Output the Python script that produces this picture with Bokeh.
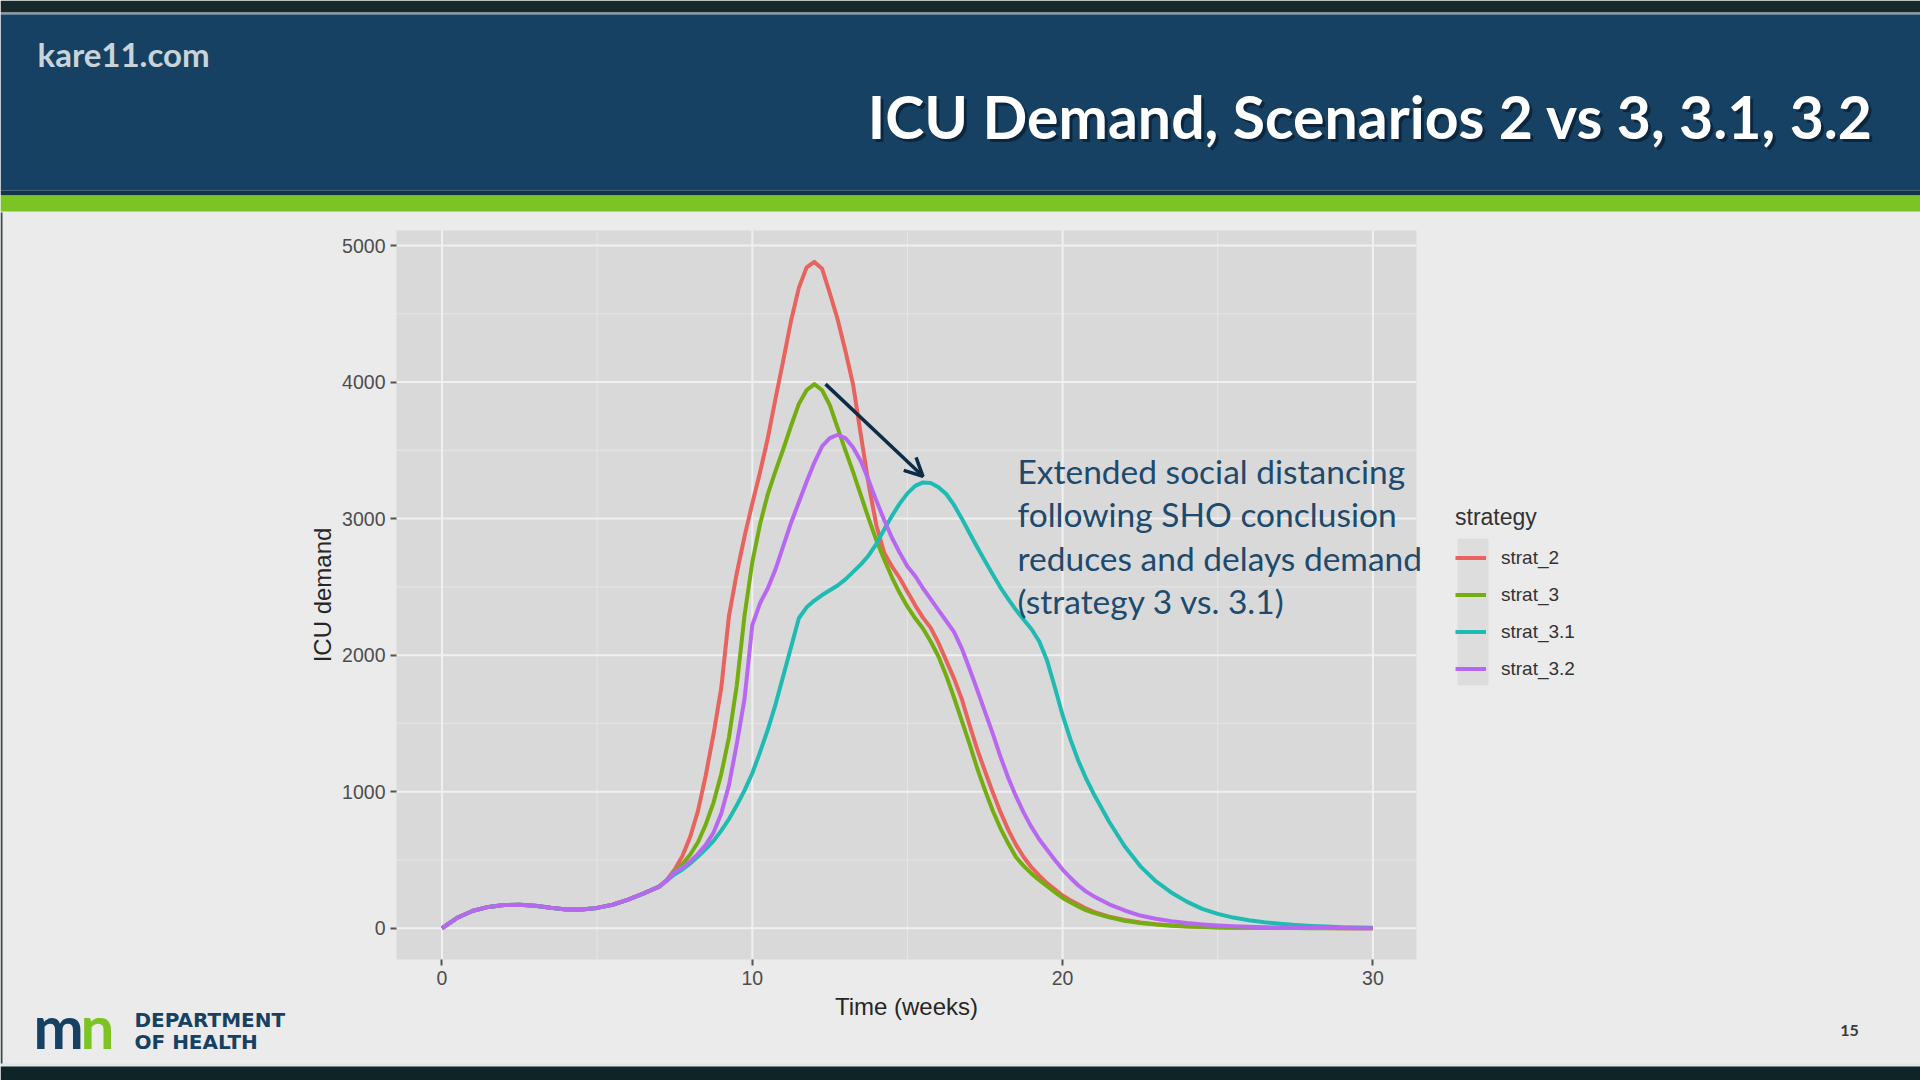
from bokeh.plotting import figure
from bokeh.models import Range1d, FixedTicker, Legend, LegendItem, Label, Arrow, OpenHead, LinearAxis
from bokeh.embed import file_html
from bokeh.resources import INLINE
from bokeh.core.properties import value

# ---------------- data ----------------
weeks = [0.0, 0.5, 1.0, 1.5, 2.0, 2.5, 3.0, 3.5, 4.0, 4.5, 5.0, 5.5, 6.0, 6.5, 7.0,
         7.25, 7.5, 7.75, 8.0, 8.25, 8.5, 8.75, 9.0, 9.25, 9.5, 9.75, 10.0,
         10.25, 10.5, 10.75, 11.0, 11.25, 11.5, 11.75, 12.0, 12.25, 12.5, 12.75, 13.0,
         13.25, 13.5, 13.75, 14.0, 14.25, 14.5, 14.75, 15.0, 15.25, 15.5, 15.75, 16.0,
         16.25, 16.5, 16.75, 17.0, 17.25, 17.5, 17.75, 18.0, 18.25, 18.5, 18.75, 19.0,
         19.25, 19.5, 19.75, 20.0, 20.25, 20.5, 20.75, 21.0,
         21.5, 22.0, 22.5, 23.0, 23.5, 24.0, 24.5, 25.0, 25.5, 26.0, 26.5, 27.0,
         27.5, 28.0, 28.5, 29.0, 29.5, 30.0]

strat_2 = [0, 78, 128, 156, 170, 172, 165, 150, 138, 137, 149, 172, 210, 255, 305,
           355, 430, 530, 670, 860, 1120, 1420, 1760, 2290, 2600, 2870, 3110,
           3340, 3590, 3880, 4160, 4450, 4690, 4840, 4880, 4830, 4650, 4460, 4230,
           3980, 3610, 3250, 2950, 2750, 2650, 2565, 2465, 2365, 2275, 2200, 2090,
           1960, 1830, 1680, 1490, 1310, 1150, 995, 850, 720, 610, 520, 445,
           385, 330, 285, 240, 205, 175, 145, 120,
           85, 60, 42, 30, 21, 15, 10, 7, 5, 4, 3, 2,
           1, 1, 1, 0, 0, 0]

strat_3 = [0, 78, 128, 156, 170, 172, 165, 150, 138, 137, 149, 172, 210, 255, 305,
           350, 420, 470, 540, 630, 760, 920, 1130, 1400, 1780, 2290, 2680,
           2960, 3180, 3350, 3510, 3680, 3840, 3940, 3985, 3940, 3830, 3665, 3500,
           3340, 3170, 3000, 2840, 2700, 2570, 2455, 2355, 2270, 2195, 2100, 1990,
           1850, 1690, 1520, 1350, 1170, 1010, 860, 730, 620, 520, 455, 400,
           352, 308, 265, 222, 190, 160, 133, 112,
           80, 55, 38, 27, 19, 13, 9, 6, 4, 3, 2, 1,
           1, 0, 0, 0, 0, 0]

strat_3_1 = [0, 78, 128, 156, 170, 172, 165, 150, 138, 137, 149, 172, 210, 255, 305,
             350, 395, 430, 475, 525, 580, 640, 715, 800, 900, 1010, 1135,
             1290, 1455, 1640, 1850, 2060, 2270, 2350, 2400, 2440, 2475, 2510, 2555,
             2610, 2665, 2730, 2815, 2920, 3020, 3110, 3185, 3240, 3265, 3260, 3230,
             3180, 3100, 3000, 2895, 2790, 2690, 2590, 2495, 2410, 2330, 2260, 2190,
             2100, 1960, 1765, 1560, 1385, 1230, 1100, 985,
             780, 600, 455, 345, 262, 195, 142, 105, 78, 58, 44, 33,
             24, 17, 12, 8, 5, 3]

strat_3_2 = [0, 78, 128, 156, 170, 172, 165, 150, 138, 137, 149, 172, 210, 255, 305,
             350, 410, 445, 490, 545, 610, 700, 840, 1050, 1350, 1680, 2220,
             2380, 2490, 2630, 2800, 2970, 3120, 3270, 3410, 3530, 3590, 3614, 3590,
             3520, 3420, 3280, 3130, 2990, 2860, 2750, 2650, 2580, 2490, 2410, 2330,
             2250, 2170, 2050, 1900, 1745, 1585, 1425, 1255, 1100, 965, 845, 740,
             650, 575, 500, 430, 370, 315, 270, 235,
             175, 130, 93, 70, 52, 38, 28, 20, 14, 10, 7, 5,
             3, 2, 1, 1, 0, 0]

series_names = ["strat_2", "strat_3", "strat_3.1", "strat_3.2"]
series_values = [strat_2, strat_3, strat_3_1, strat_3_2]
series_colors = ["#e8635d", "#74ad12", "#1fbab2", "#b868f0"]
for s in series_values:
    assert len(s) == len(weeks), (len(s), len(weeks))

x_ticks = [0, 10, 20, 30]
x_minor = [5, 15, 25]
y_ticks = [0, 1000, 2000, 3000, 4000, 5000]
y_minor = [500, 1500, 2500, 3500, 4500]

title_text = "ICU Demand, Scenarios 2 vs 3, 3.1, 3.2"
note_lines = ["Extended social distancing", "following SHO conclusion",
              "reduces and delays demand", "(strategy 3 vs. 3.1)"]

# ---------------- geometry / styles ----------------
NAVY = "#164163"
GREEN = "#7cc324"
SLIDE = "#ebebeb"
PANEL = "#d9d9d9"
W, H = 1920, 1080
FR_L, FR_R, FR_T, FR_B = 396, 1416, 230, 959      # ggplot panel, in page pixels
X0, X1 = -1.466, 31.405                            # panel data extent
Y0, Y1 = -229, 5110
SX = (FR_R - FR_L) / (X1 - X0)
SY = (FR_B - FR_T) / (Y1 - Y0)


def dx(px):
    return X0 + (px - FR_L) / SX


def dy(py):
    return Y1 - (py - FR_T) / SY


p = figure(width=W, height=H, x_range=Range1d(dx(0), dx(W)), y_range=Range1d(dy(H), dy(0)),
           output_backend="svg", toolbar_location=None, min_border=0,
           x_axis_location=None, y_axis_location=None)
p.grid.visible = False
p.outline_line_color = None
p.background_fill_color = SLIDE
p.border_fill_color = SLIDE

# ---- slide decoration ----
def band(top, bottom, color, left=0, right=W):
    p.quad(left=[dx(left)], right=[dx(right)], top=[dy(top)], bottom=[dy(bottom)],
           fill_color=color, line_color=None)

band(0, 12, "#16292b")
band(12, 14, "#8a9ba3")
band(14, 190, NAVY)
band(190, 195, "#123446")
band(195, 211, GREEN)
band(1063, 1066, "#dfe5e5")
band(1066, 1080, "#0e2426")
band(212, 1063, "#3c4a4c", left=0, right=2)
# legend key background column (ggplot key boxes)
band(538, 685, "#dddddd", left=1457, right=1488)

p.text(x=[dx(1876)], y=[dy(119)], text=[title_text], text_align="right", text_baseline="alphabetic",
       text_font=value("Lato"), text_font_style="bold", text_font_size="59px",
       text_color="#0a2033", text_alpha=0.8)
p.text(x=[dx(1873)], y=[dy(116)], text=[title_text], text_align="right", text_baseline="alphabetic",
       text_font=value("Lato"), text_font_style="bold", text_font_size="59px",
       text_color="#ffffff")
p.text(x=[dx(37)], y=[dy(53)], text=["kare11.com"], text_align="left", text_baseline="middle",
       text_font=value("Lato"), text_font_style="bold", text_font_size="33px",
       text_color="#c9d3da")

# ---- panel ----
p.quad(left=[X0], right=[X1], bottom=[Y0], top=[Y1], fill_color=PANEL, line_color=None)
p.segment(x0=x_minor, x1=x_minor, y0=[Y0] * len(x_minor), y1=[Y1] * len(x_minor),
          line_color="#e6e6e6", line_width=1)
p.segment(x0=[X0] * len(y_minor), x1=[X1] * len(y_minor), y0=y_minor, y1=y_minor,
          line_color="#e6e6e6", line_width=1)
p.segment(x0=x_ticks, x1=x_ticks, y0=[Y0] * len(x_ticks), y1=[Y1] * len(x_ticks),
          line_color="#f0f0f0", line_width=2)
p.segment(x0=[X0] * len(y_ticks), x1=[X1] * len(y_ticks), y0=y_ticks, y1=y_ticks,
          line_color="#f0f0f0", line_width=2)

xaxis = LinearAxis(fixed_location=Y0, ticker=FixedTicker(ticks=x_ticks), axis_label="Time (weeks)",
                   bounds=(X0, X1))
yaxis = LinearAxis(fixed_location=X0, ticker=FixedTicker(ticks=y_ticks), axis_label="ICU demand",
                   bounds=(Y0, Y1))
for ax in (xaxis, yaxis):
    ax.axis_line_color = None
    ax.minor_tick_line_color = None
    ax.major_tick_line_color = "#555555"
    ax.major_tick_line_width = 2
    ax.major_tick_out = 6
    ax.major_tick_in = 0
    ax.major_label_text_font = "Liberation Sans"
    ax.major_label_text_font_size = "19.5px"
    ax.major_label_text_color = "#4d4d4d"
    ax.axis_label_text_font = "Liberation Sans"
    ax.axis_label_text_font_size = "24px"
    ax.axis_label_text_font_style = "normal"
    ax.axis_label_text_color = "#262626"
xaxis.major_label_standoff = 5
yaxis.major_label_standoff = 5
xaxis.axis_label_standoff = 5
yaxis.axis_label_standoff = 3
p.add_layout(xaxis, "below")
p.add_layout(yaxis, "left")

renderers = []
for name, vals, col in zip(series_names, series_values, series_colors):
    r = p.line(weeks, vals, line_color=col, line_width=4, line_join="round")
    renderers.append(r)

legend = Legend(items=[LegendItem(label=n, renderers=[r]) for n, r in zip(series_names, renderers)],
                title="strategy", location=(1445, H - 697), orientation="vertical")
legend.title_text_font = "Liberation Sans"
legend.title_text_font_size = "23px"
legend.title_text_font_style = "normal"
legend.title_text_color = "#333333"
legend.title_standoff = 8
legend.label_text_font = "Liberation Sans"
legend.label_text_font_size = "19px"
legend.label_text_color = "#333333"
legend.glyph_width = 31
legend.glyph_height = 37
legend.label_height = 37
legend.spacing = 0
legend.label_standoff = 15
legend.padding = 10
legend.margin = 0
legend.background_fill_alpha = 0
legend.border_line_alpha = 0
p.add_layout(legend, "center")

# arrow annotation
p.add_layout(Arrow(end=OpenHead(size=18, line_width=3.5, line_color="#0f2c47"),
                   x_start=12.36, y_start=3985, x_end=15.5, y_end=3310,
                   line_width=3.5, line_color="#0f2c47"))

for i, line in enumerate(note_lines):
    p.add_layout(Label(x=dx(1017), y=dy(470 + 43.5 * i), text=line, text_align="left",
                       text_baseline="middle", text_font="Lato", text_font_size="33.5px",
                       text_color="#1d4a6d"))

# footer (logo and page number)
p.add_layout(Label(x=dx(33), y=dy(1025), text="m", text_align="left", text_baseline="middle",
                   text_font="Lato", text_font_style="bold", text_font_size="60px",
                   text_color=NAVY))
p.add_layout(Label(x=dx(80), y=dy(1025), text="n", text_align="left", text_baseline="middle",
                   text_font="Lato", text_font_style="bold", text_font_size="60px",
                   text_color=GREEN))
p.add_layout(Label(x=dx(134), y=dy(1019), text="DEPARTMENT", text_align="left",
                   text_baseline="middle", text_font="DejaVu Sans",
                   text_font_style="bold", text_font_size="20px", text_color=NAVY))
p.add_layout(Label(x=dx(134), y=dy(1041), text="OF HEALTH", text_align="left",
                   text_baseline="middle", text_font="DejaVu Sans",
                   text_font_style="bold", text_font_size="20px", text_color=NAVY))
p.add_layout(Label(x=dx(1849), y=dy(1030), text="15", text_align="center", text_baseline="middle",
                   text_font="Lato", text_font_style="bold", text_font_size="16px",
                   text_color="#3a3a3a"))

open("out.html", "w").write(file_html(p, INLINE))
